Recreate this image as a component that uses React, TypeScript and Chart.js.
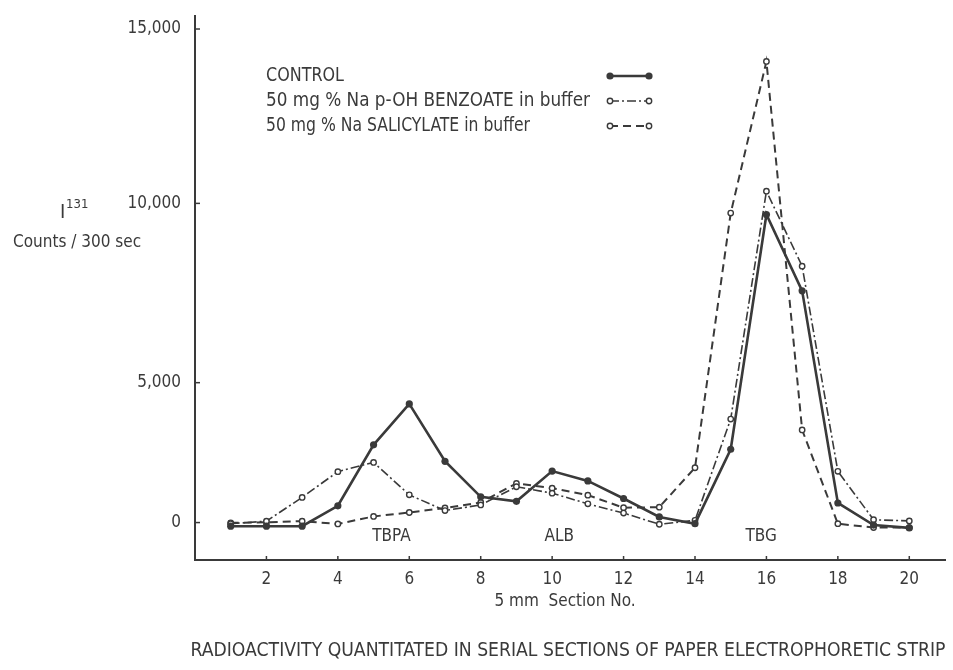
import React, { useEffect, useRef } from 'react';
import { Chart, registerables, LinearScale } from 'chart.js';

// ---- data ----
const SECTIONS = [1, 2, 3, 4, 5, 6, 7, 8, 9, 10, 11, 12, 13, 14, 15, 16, 17, 18, 19, 20];
const CONTROL = [-130, -130, -130, 600, 2780, 4240, 2190, 920, 760, 1840, 1490, 860, 200, -40, 2620, 9690, 7560, 700, -90, -190];
const BENZOATE = [-40, 50, 900, 1820, 2150, 990, 430, 630, 1280, 1050, 670, 340, -60, 80, 3700, 10350, 8250, 1830, 100, 60];
const SALICYLATE = [-10, 10, 50, -50, 220, 360, 520, 720, 1400, 1230, 980, 530, 550, 1960, 9730, 14070, 3310, -40, -180, -180];

const SERIES_LABELS = ['CONTROL', '50 mg % Na p-OH BENZOATE in buffer', '50 mg % Na SALICYLATE in buffer'];
const X_TICKS = [2, 4, 6, 8, 10, 12, 14, 16, 18, 20];
const Y_TICKS = [0, 5000, 10000, 15000];
const REGION_LABELS = ['TBPA', 'ALB', 'TBG'];
const REGION_SECTIONS = [5.5, 10.2, 15.85];

const X_TITLE = '5 mm  Section No.';
const CHART_TITLE = 'RADIOACTIVITY QUANTITATED IN SERIAL SECTIONS OF PAPER ELECTROPHORETIC STRIP';
const Y_TITLE_MAIN = 'I';
const Y_TITLE_SUP = '131';
const Y_TITLE_SUB = 'Counts / 300 sec';

// the hand-drawn y axis is not evenly spaced: tick values and their heights above the x axis
const Y_WARP_VALUES = [0, 5000, 10000, 15000];
const Y_WARP_UNITS = [38, 180, 362, 539];
const Y_UNIT_MAX = 552;

function toUnits(v: number): number {
  const A = Y_WARP_VALUES, U = Y_WARP_UNITS;
  let i = 0;
  if (v >= A[A.length - 1]) i = A.length - 2;
  else if (v > A[0]) { while (v > A[i + 1]) i++; }
  return U[i] + ((v - A[i]) * (U[i + 1] - U[i])) / (A[i + 1] - A[i]);
}
function fromUnits(u: number): number {
  const A = Y_WARP_VALUES, U = Y_WARP_UNITS;
  let i = 0;
  if (u >= U[U.length - 1]) i = U.length - 2;
  else if (u > U[0]) { while (u > U[i + 1]) i++; }
  return A[i] + ((u - U[i]) * (A[i + 1] - A[i])) / (U[i + 1] - U[i]);
}

class WarpedScale extends LinearScale {
  static id = 'warped';
  static defaults = (LinearScale as any).defaults;
  getPixelForValue(value: any) {
    if (value === null || value === undefined || isNaN(value)) return NaN;
    return super.getPixelForValue(toUnits(value));
  }
  getValueForPixel(pixel: number) {
    return fromUnits(super.getValueForPixel(pixel) as number);
  }
}

Chart.register(...registerables, WarpedScale as any);

const INK = '#3a3a3a';
const FONT = "'Liberation Sans Narrow', 'DejaVu Sans Condensed', 'Liberation Sans', sans-serif";

const STYLES = [
  { borderWidth: 2.6, borderDash: [] as number[], pointRadius: 3.6, fill: INK, pbw: 0 },
  { borderWidth: 1.6, borderDash: [9, 3, 2, 3], pointRadius: 2.7, fill: '#ffffff', pbw: 1.4 },
  { borderWidth: 2.0, borderDash: [8, 5], pointRadius: 2.7, fill: '#ffffff', pbw: 1.4 },
];

const decorPlugin = {
  id: 'decor',
  afterDraw(chart: any) {
    const { ctx, chartArea, scales } = chart;
    const xs = scales.x, ys = scales.y;
    ctx.save();
    ctx.strokeStyle = INK;
    ctx.fillStyle = INK;
    ctx.lineWidth = 1.5;
    ctx.setLineDash([]);
    // inward tick marks
    X_TICKS.forEach((v) => {
      const px = xs.getPixelForValue(v);
      ctx.beginPath();
      ctx.moveTo(px, chartArea.bottom);
      ctx.lineTo(px, chartArea.bottom - 4);
      ctx.stroke();
    });
    Y_TICKS.forEach((v) => {
      const py = ys.getPixelForValue(v);
      ctx.beginPath();
      ctx.moveTo(chartArea.left, py);
      ctx.lineTo(chartArea.left + 5, py);
      ctx.stroke();
    });

    ctx.textBaseline = 'middle';
    // region labels
    ctx.textAlign = 'center';
    ctx.font = `17px ${FONT}`;
    REGION_LABELS.forEach((t, i) => {
      ctx.fillText(t, xs.getPixelForValue(REGION_SECTIONS[i]), chartArea.bottom - 23);
    });

    // legend
    const rows = [76, 101, 126];
    const widths = [78, 324, 264];
    ctx.textAlign = 'left';
    ctx.font = `19px ${FONT}`;
    SERIES_LABELS.forEach((t, i) => {
      const y = rows[i];
      ctx.fillText(t, 266, y, widths[i]);
      const st = STYLES[i];
      const x1 = 610, x2 = 649;
      ctx.lineWidth = st.borderWidth;
      ctx.setLineDash(st.borderDash);
      ctx.beginPath();
      ctx.moveTo(x1, y);
      ctx.lineTo(x2, y);
      ctx.stroke();
      ctx.setLineDash([]);
      [x1, x2].forEach((x) => {
        ctx.beginPath();
        ctx.arc(x, y, st.pointRadius, 0, Math.PI * 2);
        ctx.fillStyle = st.fill;
        ctx.fill();
        if (st.pbw > 0) {
          ctx.lineWidth = st.pbw;
          ctx.stroke();
        }
      });
      ctx.fillStyle = INK;
    });

    // x axis title
    ctx.textAlign = 'center';
    ctx.font = `17px ${FONT}`;
    ctx.fillText(X_TITLE, 565, 602);

    // chart title (below)
    ctx.font = `20px ${FONT}`;
    ctx.fillText(CHART_TITLE, 568, 651, 755);

    // y axis title
    ctx.textAlign = 'left';
    ctx.font = `20px ${FONT}`;
    ctx.fillText(Y_TITLE_MAIN, 60, 213);
    ctx.font = `13px ${FONT}`;
    ctx.fillText(Y_TITLE_SUP, 66, 205);
    ctx.font = `17px ${FONT}`;
    ctx.fillText(Y_TITLE_SUB, 13, 243, 130);
    ctx.restore();
  },
};

export default function App() {
  const ref = useRef<HTMLCanvasElement | null>(null);
  useEffect(() => {
    if (!ref.current) return;
    const seriesData = [CONTROL, BENZOATE, SALICYLATE];
    const chart = new Chart(ref.current, {
      type: 'line',
      data: {
        datasets: seriesData.map((vals, i) => ({
          label: SERIES_LABELS[i],
          data: SECTIONS.map((s, j) => ({ x: s, y: vals[j] })),
          borderColor: INK,
          borderWidth: STYLES[i].borderWidth,
          borderDash: STYLES[i].borderDash,
          pointRadius: STYLES[i].pointRadius,
          pointBackgroundColor: STYLES[i].fill,
          pointBorderColor: INK,
          pointBorderWidth: STYLES[i].pbw,
          tension: 0,
          fill: false,
        })),
      },
      options: {
        animation: false,
        responsive: false,
        devicePixelRatio: 1,
        layout: { padding: { top: 9, right: 8, left: 0, bottom: 0 } },
        plugins: { legend: { display: false }, tooltip: { enabled: false }, title: { display: false } },
        scales: {
          x: {
            type: 'linear',
            min: 0,
            max: 21,
            grid: { display: false },
            border: { display: true, color: INK, width: 2 },
            ticks: { font: { family: FONT, size: 17 }, color: INK, padding: 1, maxRotation: 0, autoSkip: false },
            afterBuildTicks: (s: any) => { s.ticks = X_TICKS.map((v) => ({ value: v })); },
            afterFit: (s: any) => { s.height = 110; },
          },
          y: {
            type: 'warped' as any,
            min: 0,
            max: Y_UNIT_MAX,
            bounds: 'data',
            grid: { display: false },
            border: { display: true, color: INK, width: 2 },
            ticks: {
              font: { family: FONT, size: 17 },
              color: INK,
              padding: 6,
              callback: (v: any) => Number(v).toLocaleString('en-US'),
            },
            afterBuildTicks: (s: any) => { s.ticks = Y_TICKS.map((v) => ({ value: v })); },
            afterFit: (s: any) => { s.width = 195; },
          } as any,
        },
      },
      plugins: [decorPlugin],
    });
    return () => chart.destroy();
  }, []);
  return (
    <div style={{ position: 'absolute', left: 0, top: 0, width: 953, height: 670, background: '#ffffff' }}>
      <canvas ref={ref} width={953} height={670} style={{ display: 'block' }} />
    </div>
  );
}
